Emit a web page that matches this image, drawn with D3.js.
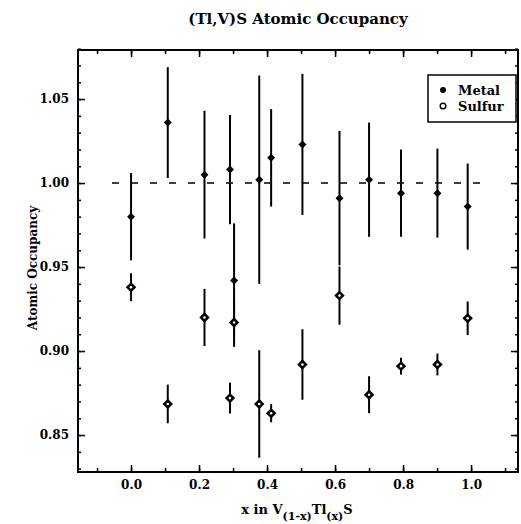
<!DOCTYPE html>
<html>
<head>
<meta charset="utf-8">
<script src="https://cdn.jsdelivr.net/npm/d3@7"></script>
<style>
  body { margin: 0; background: #fff; }
  text { font-family: "DejaVu Serif", serif; fill: #000; }
</style>
</head>
<body>
<div id="grafico"></div>
<script>
// Data
const xValues = [0.0, 0.108, 0.216, 0.291, 0.303, 0.377, 0.412, 0.504, 0.613, 0.700, 0.794, 0.901, 0.990];
const metalValues = [0.980, 1.036, 1.005, 1.008, 0.942, 1.002, 1.015, 1.023, 0.991, 1.002, 0.994, 0.994, 0.986];
const metalErrors = [0.026, 0.033, 0.038, 0.0325, 0.034, 0.062, 0.029, 0.042, 0.040, 0.034, 0.026, 0.0265, 0.0256];
const sulfurValues = [0.938, 0.8685, 0.920, 0.872, 0.917, 0.8685, 0.863, 0.892, 0.933, 0.874, 0.891, 0.892, 0.9195];
const sulfurErrors = [0.0083, 0.0115, 0.017, 0.0092, 0.0145, 0.032, 0.0054, 0.021, 0.0173, 0.011, 0.005, 0.0065, 0.010];
const xTicks = [0.0, 0.2, 0.4, 0.6, 0.8, 1.0];
const yTicks = [0.85, 0.90, 0.95, 1.00, 1.05];

function criarGrafico() {
  const largura = 521;
  const altura = 524;
  const margem = { top: 50, right: 3, bottom: 52, left: 78 };
  const w = largura - margem.left - margem.right;
  const h = altura - margem.top - margem.bottom;

  const svg = d3.select('#grafico').append('svg')
    .attr('width', largura)
    .attr('height', altura);

  const g = svg.append('g')
    .attr('transform', `translate(${margem.left},${margem.top})`);

  const x = d3.scaleLinear().domain([-0.156, 1.138]).range([0, w]);
  const y = d3.scaleLinear().domain([0.828, 1.0792]).range([h, 0]);

  const minorX = d3.range(-0.1, 1.15, 0.1);
  const minorY = d3.range(0.83, 1.08, 0.01);

  // Axes with inward ticks on all four sides
  const eixo = (ax, pos) => {
    const sel = g.append('g').attr('transform', pos).call(ax);
    sel.select('.domain').remove();
    sel.selectAll('line').attr('stroke', '#000').attr('stroke-width', 1.5);
    return sel;
  };

  eixo(d3.axisBottom(x).tickValues(xTicks).tickSize(-7).tickPadding(8).tickFormat(d3.format('.1f')), `translate(0,${h})`)
    .selectAll('text').style('font-size', '12px').style('font-weight', 'bold');
  eixo(d3.axisBottom(x).tickValues(minorX).tickSize(-4).tickFormat(''), `translate(0,${h})`);
  eixo(d3.axisTop(x).tickValues(xTicks).tickSize(-7).tickFormat(''), 'translate(0,0)');
  eixo(d3.axisTop(x).tickValues(minorX).tickSize(-4).tickFormat(''), 'translate(0,0)');

  eixo(d3.axisLeft(y).tickValues(yTicks).tickSize(-7).tickPadding(9).tickFormat(d3.format('.2f')), 'translate(0,0)')
    .selectAll('text').style('font-size', '12px').style('font-weight', 'bold');
  eixo(d3.axisLeft(y).tickValues(minorY).tickSize(-3).tickFormat(''), 'translate(0,0)');
  eixo(d3.axisRight(y).tickValues(yTicks).tickSize(-7).tickFormat(''), `translate(${w},0)`);
  eixo(d3.axisRight(y).tickValues(minorY).tickSize(-3).tickFormat(''), `translate(${w},0)`);

  // Frame
  g.append('rect')
    .attr('width', w).attr('height', h)
    .attr('fill', 'none').attr('stroke', '#000').attr('stroke-width', 2);

  // Reference line at 1.00
  g.append('line')
    .attr('x1', x(-0.056)).attr('x2', x(1.056))
    .attr('y1', y(1.0)).attr('y2', y(1.0))
    .attr('stroke', '#000').attr('stroke-width', 1.5)
    .attr('stroke-dasharray', '7,12');

  const diamante = (r) => `M0,${-r}L${r},0L0,${r}L${-r},0Z`;

  const series = [
    { vals: metalValues, errs: metalErrors, r: 4, furo: 0 },
    { vals: sulfurValues, errs: sulfurErrors, r: 5.2, furo: 1.3 }
  ];

  series.forEach((s) => {
    const pontos = xValues.map((xv, i) => ({ x: xv, v: s.vals[i], e: s.errs[i] }));

    g.selectAll(null).data(pontos).enter().append('line')
      .attr('x1', (d) => x(d.x)).attr('x2', (d) => x(d.x))
      .attr('y1', (d) => y(d.v + d.e)).attr('y2', (d) => y(d.v - d.e))
      .attr('stroke', '#000').attr('stroke-width', 2);

    g.selectAll(null).data(pontos).enter().append('path')
      .attr('d', diamante(s.r))
      .attr('transform', (d) => `translate(${x(d.x)},${y(d.v)})`)
      .attr('fill', '#000');

    // small hole for the open (sulfur) markers
    if (s.furo > 0) {
      g.selectAll(null).data(pontos).enter().append('circle')
        .attr('cx', (d) => x(d.x)).attr('cy', (d) => y(d.v))
        .attr('r', s.furo).attr('fill', '#fff');
    }
  });

  // Legend
  const leg = svg.append('g').attr('transform', 'translate(428,75)');
  leg.append('rect')
    .attr('width', 88).attr('height', 47)
    .attr('fill', '#fff').attr('stroke', '#000').attr('stroke-width', 1.5);
  leg.append('circle').attr('cx', 15).attr('cy', 15).attr('r', 3).attr('fill', '#000');
  leg.append('circle').attr('cx', 15).attr('cy', 31).attr('r', 2.8)
    .attr('fill', '#fff').attr('stroke', '#000').attr('stroke-width', 1.4);
  leg.append('text').attr('x', 30).attr('y', 15).attr('dy', '0.35em')
    .style('font-size', '13px').style('font-weight', 'bold').text('Metal');
  leg.append('text').attr('x', 30).attr('y', 31).attr('dy', '0.35em')
    .style('font-size', '13px').style('font-weight', 'bold').text('Sulfur');

  // Title
  svg.append('text')
    .attr('x', 298).attr('y', 24)
    .attr('text-anchor', 'middle')
    .style('font-size', '15px')
    .style('font-weight', 'bold')
    .text('(Tl,V)S Atomic Occupancy');

  // Y label
  svg.append('text')
    .attr('transform', 'translate(37,268) rotate(-90)')
    .attr('text-anchor', 'middle')
    .style('font-size', '12px')
    .style('font-weight', 'bold')
    .text('Atomic Occupancy');

  // X label with subscripts
  const xl = svg.append('text')
    .attr('x', 297).attr('y', 514)
    .attr('text-anchor', 'middle')
    .style('font-size', '13px')
    .style('font-weight', 'bold');
  xl.append('tspan').text('x in V');
  xl.append('tspan').attr('dy', 6).style('font-size', '11px').text('(1-x)');
  xl.append('tspan').attr('dy', -6).text('Tl');
  xl.append('tspan').attr('dy', 6).style('font-size', '11px').text('(x)');
  xl.append('tspan').attr('dy', -6).text('S');
}

criarGrafico();
</script>
</body>
</html>
